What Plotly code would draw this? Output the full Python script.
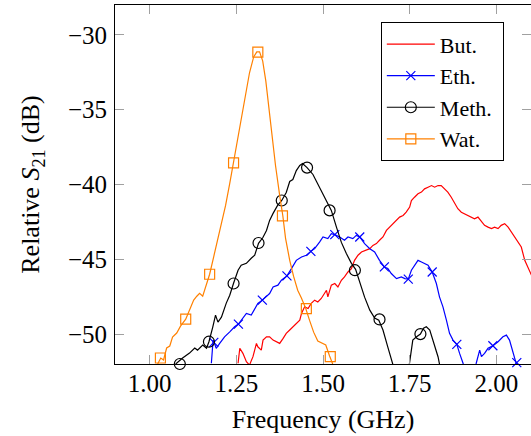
import plotly.graph_objects as go

# ---------------- data ----------------
but_x = [1.255, 1.260, 1.269, 1.279, 1.288, 1.298, 1.308, 1.312, 1.322, 1.327, 1.337, 1.346, 1.356, 1.365,
         1.375, 1.385, 1.394, 1.404, 1.413, 1.423, 1.433, 1.438, 1.447, 1.457, 1.466, 1.476, 1.485, 1.495,
         1.505, 1.510, 1.514, 1.524, 1.534, 1.543, 1.553, 1.562, 1.572, 1.582, 1.591, 1.601, 1.611, 1.625,
         1.635, 1.644, 1.654, 1.663, 1.673, 1.683, 1.692, 1.702, 1.712, 1.721, 1.731, 1.740, 1.750, 1.755,
         1.764, 1.774, 1.784, 1.793, 1.803, 1.813, 1.822, 1.832, 1.841, 1.851, 1.860, 1.870, 1.880, 1.889,
         1.899, 1.908, 1.918, 1.928, 1.937, 1.947, 1.957, 1.966, 1.976, 1.986, 1.995, 2.005, 2.014, 2.024,
         2.034, 2.043, 2.053, 2.062, 2.072, 2.082, 2.091, 2.099, 2.110]
but_y = [-51.95, -50.95, -51.29, -51.85, -52.07, -51.51, -50.62, -50.85, -51.07, -50.40, -50.18, -50.18,
         -50.40, -50.51, -50.62, -50.29, -49.95, -49.73, -49.51, -49.29, -49.07, -48.62, -48.18, -48.29,
         -47.95, -47.73, -47.85, -47.62, -47.29, -47.07, -47.51, -46.73, -46.62, -46.85, -46.40, -46.18,
         -45.85, -45.62, -45.07, -44.73, -44.51, -44.40, -44.29, -44.07, -43.95, -43.73, -43.51, -43.07,
         -42.85, -42.62, -42.40, -42.18, -42.07, -41.85, -41.51, -41.07, -40.85, -40.62, -40.51, -40.29,
         -40.18, -40.07, -40.18, -40.07, -40.07, -40.29, -40.51, -40.85, -41.29, -41.62, -41.85, -41.95,
         -42.07, -42.18, -42.29, -42.18, -42.51, -42.73, -42.85, -42.95, -42.85, -42.95, -42.73, -42.62,
         -42.85, -43.18, -43.51, -43.85, -44.18, -45.07, -45.51, -45.95, -46.50]

eth_x = [1.178, 1.183, 1.187, 1.192, 1.202, 1.216, 1.231, 1.245, 1.256, 1.269, 1.279, 1.293, 1.303, 1.312,
         1.325, 1.337, 1.346, 1.356, 1.370, 1.380, 1.396, 1.409, 1.423, 1.438, 1.452, 1.465, 1.476, 1.490,
         1.500, 1.514, 1.524, 1.534, 1.548, 1.562, 1.572, 1.586, 1.596, 1.606, 1.620, 1.635, 1.649, 1.663,
         1.677, 1.687, 1.697, 1.712, 1.726, 1.736, 1.746, 1.755, 1.764, 1.774, 1.784, 1.793, 1.803, 1.815,
         1.827, 1.836, 1.846, 1.856, 1.865, 1.875, 1.886, 1.894, 1.904, 1.920, 1.942, 1.952, 1.957, 1.966,
         1.976, 1.990, 2.005, 2.019, 2.029, 2.038, 2.048, 2.059, 2.070]
eth_y = [-51.95, -50.40, -50.62, -50.95, -50.62, -50.18, -49.85, -49.51, -49.33, -48.95, -48.62, -48.73,
         -48.29, -47.95, -47.73, -47.51, -47.29, -46.85, -46.73, -46.40, -46.11, -45.62, -45.07, -44.85,
         -44.73, -44.47, -44.29, -43.85, -43.51, -43.62, -43.29, -43.35, -43.51, -43.73, -43.51, -43.62,
         -43.40, -43.51, -43.95, -44.29, -44.51, -45.07, -45.51, -45.62, -45.95, -46.29, -46.18, -46.29,
         -46.33, -45.73, -45.40, -45.07, -45.18, -45.29, -45.40, -45.85, -46.62, -47.51, -48.18, -49.07,
         -49.95, -50.40, -50.69, -51.29, -51.95, -53.50, -51.95, -51.07, -51.51, -51.29, -50.95, -50.78,
         -50.51, -50.18, -50.07, -50.40, -51.18, -51.91, -53.00]
eth_mx = [1.185, 1.256, 1.325, 1.396, 1.465, 1.534, 1.606, 1.677, 1.746, 1.815, 1.886, 1.990, 2.059]
eth_my = [-50.55, -49.33, -47.73, -46.11, -44.47, -43.35, -43.51, -45.51, -46.33, -45.85, -50.69, -50.78, -51.91]

meth_x = [1.075, 1.095, 1.115, 1.130, 1.138, 1.153, 1.164, 1.171, 1.182, 1.190, 1.197, 1.207, 1.221, 1.231,
          1.242, 1.255, 1.264, 1.279, 1.293, 1.303, 1.314, 1.327, 1.337, 1.346, 1.356, 1.369, 1.381, 1.394,
          1.404, 1.413, 1.423, 1.433, 1.441, 1.454, 1.471, 1.490, 1.510, 1.524, 1.539, 1.553, 1.567, 1.582,
          1.594, 1.606, 1.620, 1.635, 1.649, 1.661, 1.673, 1.687, 1.702, 1.720, 1.740, 1.750, 1.759, 1.769,
          1.781, 1.790, 1.798, 1.808, 1.817, 1.832, 1.836, 1.860]
meth_y = [-52.00, -51.60, -51.27, -50.93, -51.07, -50.73, -50.95, -50.51, -49.53, -48.73, -49.20, -48.87,
          -47.93, -47.40, -46.60, -45.73, -45.40, -45.27, -44.93, -44.73, -43.93, -43.53, -43.07, -42.40,
          -41.93, -41.40, -41.07, -40.53, -39.80, -39.67, -39.07, -38.73, -38.60, -38.87, -39.33, -40.20,
          -41.07, -41.73, -42.87, -43.87, -44.60, -45.27, -45.67, -46.60, -47.53, -48.40, -48.93, -49.07,
          -49.73, -50.87, -52.00, -53.50, -53.50, -52.00, -50.40, -50.20, -50.00, -49.60, -49.51, -49.73,
          -50.40, -51.53, -52.00, -53.50]
meth_mx = [1.087, 1.171, 1.242, 1.314, 1.381, 1.454, 1.519, 1.592, 1.663, 1.781]
meth_my = [-52.00, -50.51, -46.62, -43.91, -41.07, -38.87, -41.73, -45.73, -49.02, -50.00]

wat_x = [1.023, 1.032, 1.040, 1.049, 1.058, 1.066, 1.078, 1.089, 1.104, 1.115, 1.127, 1.136, 1.144, 1.153,
         1.162, 1.173, 1.185, 1.196, 1.208, 1.219, 1.231, 1.242, 1.254, 1.265, 1.277, 1.288, 1.300, 1.309,
         1.317, 1.326, 1.335, 1.343, 1.352, 1.363, 1.375, 1.384, 1.392, 1.404, 1.415, 1.427, 1.438, 1.450,
         1.461, 1.473, 1.485, 1.496, 1.508, 1.519, 1.528]
wat_y = [-52.00, -51.60, -51.73, -50.93, -50.80, -50.20, -49.93, -49.47, -49.00, -48.40, -47.73, -47.47,
         -47.27, -47.47, -46.73, -46.00, -44.80, -43.73, -42.53, -41.40, -39.93, -38.53, -37.07, -35.60,
         -34.13, -32.53, -31.47, -31.13, -31.13, -31.73, -33.07, -34.73, -36.73, -38.73, -40.73, -42.07,
         -43.60, -45.07, -46.13, -47.07, -47.60, -48.27, -49.07, -49.87, -50.47, -50.60, -50.73, -51.47,
         -52.00]
wat_mx = [1.031, 1.104, 1.173, 1.242, 1.312, 1.383, 1.452, 1.521]
wat_my = [-51.60, -49.00, -46.00, -38.55, -31.15, -42.10, -48.30, -51.51]

x_ticks = [1.00, 1.25, 1.50, 1.75, 2.00]
y_ticks = [-50, -45, -40, -35, -30]

# ---------------- figure ----------------
FONT = "Liberation Serif"
RED, BLUE, BLACK, ORANGE = "#ff0000", "#0000ff", "#000000", "#ff8000"
LW = 1.2
PAD = "\u00a0"

fig = go.Figure()

series = [
    ("But.", but_x, but_y, None, None, RED, None, 0),
    ("Eth.", eth_x, eth_y, eth_mx, eth_my, BLUE, "x-thin-open", 9),
    ("Meth.", meth_x, meth_y, meth_mx, meth_my, BLACK, "circle-open", 11),
    ("Wat.", wat_x, wat_y, wat_mx, wat_my, ORANGE, "square-open", 10),
]

for name, xs, ys, mx, my, col, sym, sz in series:
    fig.add_trace(go.Scatter(x=xs, y=ys, mode="lines", line=dict(color=col, width=LW),
                             showlegend=False, legendgroup=name, hoverinfo="skip"))
    if mx is not None:
        fig.add_trace(go.Scatter(x=mx, y=my, mode="markers", cliponaxis=False,
                                 marker=dict(symbol=sym, size=sz, color=col, line=dict(color=col, width=1.2)),
                                 showlegend=False, legendgroup=name, hoverinfo="skip"))

for name, xs, ys, mx, my, col, sym, sz in series:
    if sym is None:
        fig.add_trace(go.Scatter(x=[None], y=[None], mode="lines", name=name + PAD, legendgroup=name,
                                 line=dict(color=col, width=LW)))
    else:
        fig.add_trace(go.Scatter(x=[None], y=[None], mode="lines+markers", name=name + PAD, legendgroup=name,
                                 line=dict(color=col, width=LW),
                                 marker=dict(symbol=sym, size=sz, color=col, line=dict(color=col, width=1.2))))

# right-side mirror ticks without a right border line
fig.add_trace(go.Scatter(x=[None], y=[None], yaxis="y2", showlegend=False, hoverinfo="skip"))

fig.update_layout(
    width=531, height=436,
    margin=dict(l=115, r=0, t=5, b=72, autoexpand=False),
    paper_bgcolor="white", plot_bgcolor="white",
    font=dict(family=FONT, size=24, color="black"),
    showlegend=True,
    legend=dict(x=0.639, y=0.952, xanchor="left", yanchor="top",
                bgcolor="white", bordercolor="black", borderwidth=1,
                font=dict(family=FONT, size=22, color="black"),
                tracegroupgap=0, itemwidth=48),
    xaxis=dict(range=[0.9, 2.1], tickvals=x_ticks, tickformat=".2f", automargin=False,
               showgrid=False, zeroline=False,
               showline=True, linecolor="black", linewidth=1, mirror="ticks",
               ticks="inside", ticklen=9, tickcolor="#a0a0a0", tickwidth=1,
               ticklabelstandoff=-3,
               tickfont=dict(family=FONT, size=25),
               title=dict(text="Frequency (GHz)", font=dict(family=FONT, size=26), standoff=13)),
    yaxis=dict(range=[-52, -28], tickvals=y_ticks, automargin=False,
               showgrid=False, zeroline=False,
               showline=True, linecolor="black", linewidth=1, mirror=False,
               ticks="inside", ticklen=9, tickcolor="#a0a0a0", tickwidth=1,
               ticklabelstandoff=2,
               tickfont=dict(family=FONT, size=25),
               title=dict(text="Relative <i>S</i><sub>21</sub> (dB)", font=dict(family=FONT, size=26), standoff=20)),
    yaxis2=dict(range=[-52, -28], tickvals=y_ticks, overlaying="y", side="right", anchor="x", automargin=False,
                showgrid=False, zeroline=False, showline=False, showticklabels=False,
                ticks="inside", ticklen=9, tickcolor="#a0a0a0", tickwidth=1),
)

fig.write_html("out.html", config={"displayModeBar": False},
               post_script="document.body.style.margin='0px';")
